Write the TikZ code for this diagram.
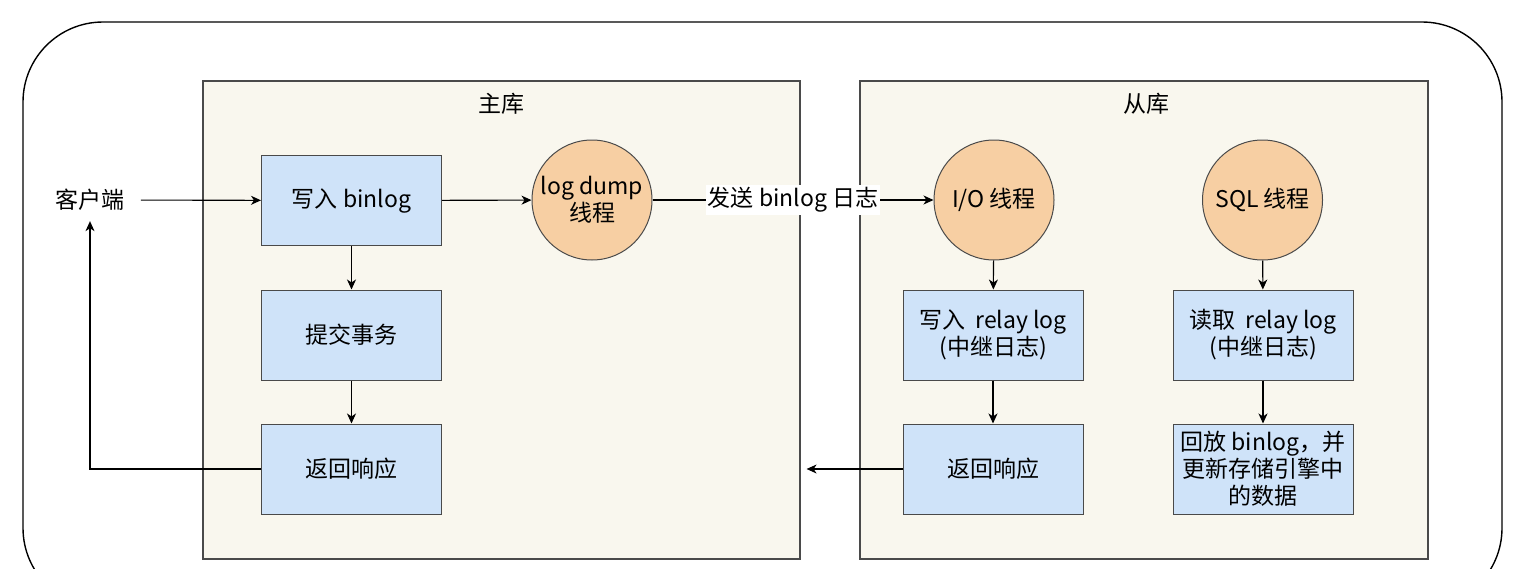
\documentclass[tikz,border=0pt]{standalone}
\usepackage{fontspec}
\setmainfont{Noto Sans CJK SC}
\usetikzlibrary{shapes.geometric, arrows.meta}
\definecolor{dbfill}{HTML}{F9F7EE}
\definecolor{stepfill}{HTML}{CFE3F9}
\definecolor{threadfill}{HTML}{F7CFA3}
\definecolor{framegray}{HTML}{4A4A4A}

\begin{document}
\begin{tikzpicture}[x=0.5pt, y=-0.5pt, >={Stealth[length=5pt, width=4.5pt, inset=1.5pt]}, font=\fontsize{11.5}{13.5}\selectfont,
  db/.style={draw=framegray, fill=dbfill, line width=0.6pt, minimum height=239pt},
  stepbox/.style={draw=framegray, fill=stepfill, line width=0.5pt, minimum width=90pt, minimum height=45pt, align=center, inner sep=1pt},
  thread/.style={circle, draw=framegray, fill=threadfill, line width=0.5pt, minimum size=60pt, inner sep=0pt, align=center},
  flow/.style={->, line width=0.55pt}]
  \path[use as bounding box, clip] (0,0) rectangle (1532,568);
  % Outer frame
  \draw[line width=0.7pt, rounded corners=40pt] (23,22) rectangle (1502,608);
  % Master and slave
  \node[db, minimum width=298.5pt] (master) at (501.5,320) {};
  \node[db, minimum width=284pt] (slave) at (1144,320) {};
  \node (mastertitle) at (501,104) {主库};
  \node (slavetitle) at (1146,104) {从库};
  % Client
  \node[inner xsep=8pt, inner ysep=5pt] (client) at (90,200) {客户端};
  % Master steps
  \node[stepbox] (binlog) at (351.5,200.5) {写入 binlog};
  \node[stepbox] (commit) at (351.5,335) {提交事务};
  \node[stepbox] (resp) at (351.5,469) {返回响应};
  \node[thread] (dump) at (592,200) {log dump\\线程};
  % Slave steps
  \node[thread] (io) at (994,200) {I/O 线程};
  \node[thread] (sql) at (1262.5,200) {SQL 线程};
  \node[stepbox] (relay) at (993,335) {写入\ \ relay log\\(中继日志)};
  \node[stepbox] (slaveresp) at (993,469) {返回响应};
  \node[stepbox] (readrelay) at (1263,335) {读取\ \ relay log\\(中继日志)};
  \node[stepbox] (replay) at (1263,469) {回放 binlog，并\\更新存储引擎中\\的数据};
  % Arrows
  \draw[flow] (client) -- (binlog);
  \draw[flow] (binlog) -- (dump);
  \draw[flow] (dump) -- node[fill=white, inner sep=1pt] (send) {发送 binlog 日志} (io);
  \draw[flow] (binlog) -- (commit);
  \draw[flow] (commit) -- (resp);
  \draw[flow] (resp.west) -| (client.south);
  \draw[flow] (io) -- (relay);
  \draw[flow] (relay) -- (slaveresp);
  \draw[flow] (sql) -- (readrelay);
  \draw[flow] (readrelay) -- (replay);
  \draw[flow, shorten >=3pt] (slaveresp.west) -- (slaveresp.west -| master.east);
\end{tikzpicture}
\end{document}
